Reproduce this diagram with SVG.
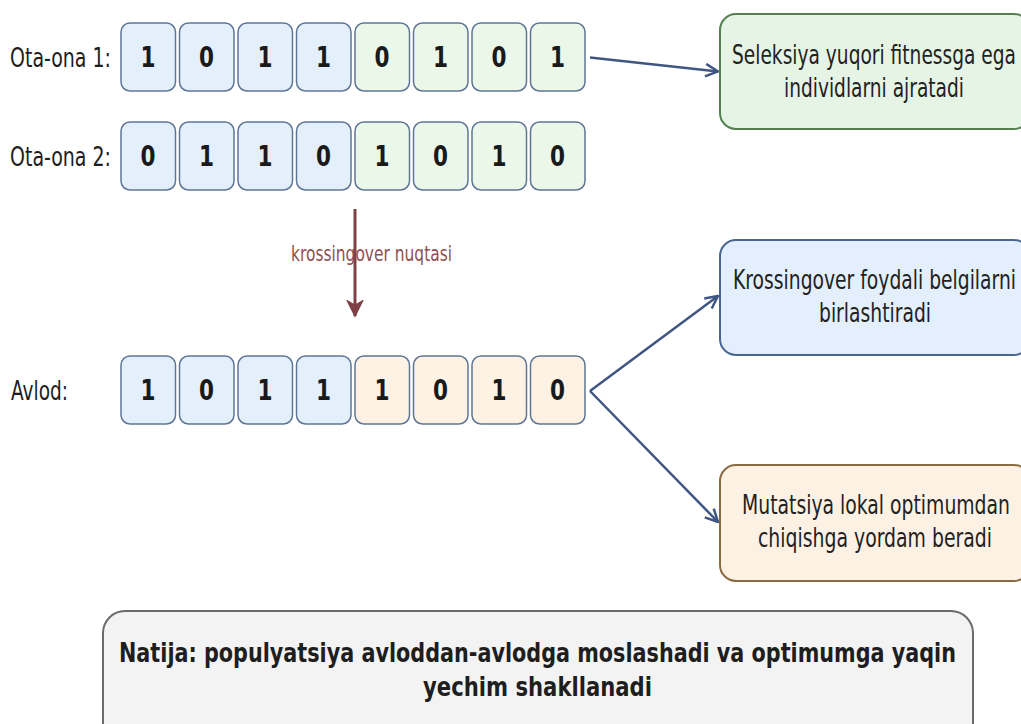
<svg xmlns="http://www.w3.org/2000/svg" width="1021" height="724" viewBox="0 0 1021 724">
<style>
.lbl{font-family:"DejaVu Sans",sans-serif;font-size:27px;fill:#1e1e1e}
.dig{font-family:"DejaVu Sans",sans-serif;font-size:28px;font-weight:bold;fill:#1a1a1a;text-anchor:middle}
.cell{stroke:#5f7596;stroke-width:1.5}
.b{fill:#e3f0fc}.g{fill:#ebf7e9}.o{fill:#fdf2e4}
.note{font-family:"DejaVu Sans",sans-serif;font-size:27px;fill:#222}
.res{font-family:"DejaVu Sans",sans-serif;font-size:27px;font-weight:bold;fill:#1e1e1e}
.conn{stroke:#3f5683;stroke-width:2.5;fill:none}
</style>
<defs>
<marker id="chev" viewBox="0 0 12 12" refX="11" refY="6" markerWidth="6" markerHeight="6" markerUnits="strokeWidth" orient="auto">
<path d="M1,1 L11,6 L1,11" fill="none" stroke="#3f5683" stroke-width="2"/>
</marker>
<marker id="stealth" viewBox="0 0 12 12" refX="11" refY="6" markerWidth="6" markerHeight="6" markerUnits="strokeWidth" orient="auto">
<path d="M1,1 L11,6 L1,11 L4,6 Z" fill="#7f4046" stroke="#7f4046" stroke-width="1"/>
</marker>
</defs>
<rect width="1021" height="724" fill="#ffffff"/>

<g id="label-p1"><text class="lbl" x="10" y="67" textLength="101" lengthAdjust="spacingAndGlyphs">Ota-ona 1:</text></g>
<g id="label-p2"><text class="lbl" x="10" y="166" textLength="101" lengthAdjust="spacingAndGlyphs">Ota-ona 2:</text></g>
<g id="label-child"><text class="lbl" x="11" y="400" textLength="57" lengthAdjust="spacingAndGlyphs">Avlod:</text></g>

<g id="parent1">
<rect class="cell b" x="121" y="23" width="54.5" height="68" rx="9"/>
<rect class="cell b" x="179.5" y="23" width="54.5" height="68" rx="9"/>
<rect class="cell b" x="238" y="23" width="54.5" height="68" rx="9"/>
<rect class="cell b" x="296.5" y="23" width="54.5" height="68" rx="9"/>
<rect class="cell g" x="355" y="23" width="54.5" height="68" rx="9"/>
<rect class="cell g" x="413.5" y="23" width="54.5" height="68" rx="9"/>
<rect class="cell g" x="472" y="23" width="54.5" height="68" rx="9"/>
<rect class="cell g" x="530.5" y="23" width="54.5" height="68" rx="9"/>
<text class="dig" x="148" y="67" textLength="15" lengthAdjust="spacingAndGlyphs">1</text>
<text class="dig" x="206.5" y="67" textLength="15" lengthAdjust="spacingAndGlyphs">0</text>
<text class="dig" x="265" y="67" textLength="15" lengthAdjust="spacingAndGlyphs">1</text>
<text class="dig" x="323.5" y="67" textLength="15" lengthAdjust="spacingAndGlyphs">1</text>
<text class="dig" x="382" y="67" textLength="15" lengthAdjust="spacingAndGlyphs">0</text>
<text class="dig" x="440.5" y="67" textLength="15" lengthAdjust="spacingAndGlyphs">1</text>
<text class="dig" x="499" y="67" textLength="15" lengthAdjust="spacingAndGlyphs">0</text>
<text class="dig" x="557.5" y="67" textLength="15" lengthAdjust="spacingAndGlyphs">1</text>
</g>

<g id="parent2">
<rect class="cell b" x="121" y="122" width="54.5" height="68" rx="9"/>
<rect class="cell b" x="179.5" y="122" width="54.5" height="68" rx="9"/>
<rect class="cell b" x="238" y="122" width="54.5" height="68" rx="9"/>
<rect class="cell b" x="296.5" y="122" width="54.5" height="68" rx="9"/>
<rect class="cell g" x="355" y="122" width="54.5" height="68" rx="9"/>
<rect class="cell g" x="413.5" y="122" width="54.5" height="68" rx="9"/>
<rect class="cell g" x="472" y="122" width="54.5" height="68" rx="9"/>
<rect class="cell g" x="530.5" y="122" width="54.5" height="68" rx="9"/>
<text class="dig" x="148" y="166" textLength="15" lengthAdjust="spacingAndGlyphs">0</text>
<text class="dig" x="206.5" y="166" textLength="15" lengthAdjust="spacingAndGlyphs">1</text>
<text class="dig" x="265" y="166" textLength="15" lengthAdjust="spacingAndGlyphs">1</text>
<text class="dig" x="323.5" y="166" textLength="15" lengthAdjust="spacingAndGlyphs">0</text>
<text class="dig" x="382" y="166" textLength="15" lengthAdjust="spacingAndGlyphs">1</text>
<text class="dig" x="440.5" y="166" textLength="15" lengthAdjust="spacingAndGlyphs">0</text>
<text class="dig" x="499" y="166" textLength="15" lengthAdjust="spacingAndGlyphs">1</text>
<text class="dig" x="557.5" y="166" textLength="15" lengthAdjust="spacingAndGlyphs">0</text>
</g>

<g id="child">
<rect class="cell b" x="121" y="356" width="54.5" height="68" rx="9"/>
<rect class="cell b" x="179.5" y="356" width="54.5" height="68" rx="9"/>
<rect class="cell b" x="238" y="356" width="54.5" height="68" rx="9"/>
<rect class="cell b" x="296.5" y="356" width="54.5" height="68" rx="9"/>
<rect class="cell o" x="355" y="356" width="54.5" height="68" rx="9"/>
<rect class="cell o" x="413.5" y="356" width="54.5" height="68" rx="9"/>
<rect class="cell o" x="472" y="356" width="54.5" height="68" rx="9"/>
<rect class="cell o" x="530.5" y="356" width="54.5" height="68" rx="9"/>
<text class="dig" x="148" y="400" textLength="15" lengthAdjust="spacingAndGlyphs">1</text>
<text class="dig" x="206.5" y="400" textLength="15" lengthAdjust="spacingAndGlyphs">0</text>
<text class="dig" x="265" y="400" textLength="15" lengthAdjust="spacingAndGlyphs">1</text>
<text class="dig" x="323.5" y="400" textLength="15" lengthAdjust="spacingAndGlyphs">1</text>
<text class="dig" x="382" y="400" textLength="15" lengthAdjust="spacingAndGlyphs">1</text>
<text class="dig" x="440.5" y="400" textLength="15" lengthAdjust="spacingAndGlyphs">0</text>
<text class="dig" x="499" y="400" textLength="15" lengthAdjust="spacingAndGlyphs">1</text>
<text class="dig" x="557.5" y="400" textLength="15" lengthAdjust="spacingAndGlyphs">0</text>
</g>

<g id="selection">
<rect x="720" y="14" width="310" height="115" rx="16" fill="#e6f4e6" stroke="#52804f" stroke-width="2"/>
<text class="note" x="732" y="64" textLength="284" lengthAdjust="spacingAndGlyphs">Seleksiya yuqori fitnessga ega</text>
<text class="note" x="784" y="97" textLength="180" lengthAdjust="spacingAndGlyphs">individlarni ajratadi</text>
</g>

<g id="crossover">
<rect x="720" y="240" width="310" height="115" rx="16" fill="#e3effc" stroke="#4a6690" stroke-width="2"/>
<text class="note" x="733" y="289" textLength="283" lengthAdjust="spacingAndGlyphs">Krossingover foydali belgilarni</text>
<text class="note" x="819" y="322" textLength="112" lengthAdjust="spacingAndGlyphs">birlashtiradi</text>
</g>

<g id="mutation">
<rect x="720" y="465" width="310" height="116" rx="16" fill="#fdf1e3" stroke="#8a6a42" stroke-width="2"/>
<text class="note" x="742" y="514" textLength="268" lengthAdjust="spacingAndGlyphs">Mutatsiya lokal optimumdan</text>
<text class="note" x="758" y="547" textLength="234" lengthAdjust="spacingAndGlyphs">chiqishga yordam beradi</text>
</g>

<g id="result">
<rect x="103" y="611" width="870" height="140" rx="22" fill="#f3f3f3" stroke="#6b6b6b" stroke-width="2"/>
<text class="res" x="119" y="662" textLength="837" lengthAdjust="spacingAndGlyphs">Natija: populyatsiya avloddan-avlodga moslashadi va optimumga yaqin</text>
<text class="res" x="423" y="696" textLength="229" lengthAdjust="spacingAndGlyphs">yechim shakllanadi</text>
</g>

<g id="crossover-point">
<text x="291" y="261" font-family="DejaVu Sans, sans-serif" font-size="21" fill="#8f5055" textLength="161" lengthAdjust="spacingAndGlyphs">krossingover nuqtasi</text>
</g>

<g id="connectors">
<line x1="355" y1="209" x2="355" y2="316" stroke="#7f4046" stroke-width="3" marker-end="url(#stealth)"/>
<line class="conn" x1="590" y1="57.5" x2="718" y2="71.5" marker-end="url(#chev)"/>
<line class="conn" x1="590" y1="391" x2="718" y2="296" marker-end="url(#chev)"/>
<line class="conn" x1="590" y1="391" x2="718" y2="522" marker-end="url(#chev)"/>
</g>
</svg>
